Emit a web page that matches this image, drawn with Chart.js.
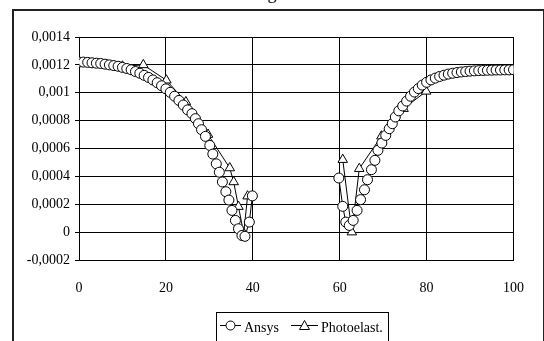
<!DOCTYPE html>
<html>
<head>
<meta charset="utf-8">
<script src="https://cdn.jsdelivr.net/npm/chart.js@4"></script>
<style>
  html,body{margin:0;padding:0;background:#fff;}
  #wrap{position:relative;width:544px;height:341px;overflow:hidden;}
  #frame{position:absolute;left:12px;top:9px;width:529px;height:340px;border:2px solid #222;}
  #ttl{position:absolute;left:0;width:544px;top:-16px;text-align:center;font:18px/18px "Liberation Serif",serif;color:#000;}
  canvas{position:absolute;left:0;top:0;}
</style>
</head>
<body>
<div id="wrap">
  <div id="frame"></div>
  <div id="ttl">g</div>
  <canvas id="c" width="544" height="341"></canvas>
</div>
<script>
const ansysLeftX = [0,1,2,3,4,5,6,7,8,9,10,11,12,13,14,15,16,17,18,19,20,21,22,23,24,25,
  26.0,26.8,27.5,28.2,29.1,30.1,30.8,31.6,32.3,33.0,33.8,34.5,35.2,36.0,36.7,37.5,38.2,39.2,39.9];
const ansysLeftY = [0.00122,0.00122,0.001218,0.001215,0.001212,0.00121,0.001205,0.0012,0.001195,0.00119,
  0.001182,0.001174,0.001165,0.001152,0.00114,0.001125,0.00111,0.001092,0.001072,0.00105,
  0.001028,0.001003,0.000975,0.000945,0.000912,0.000877,
  0.00085,0.000814,0.000778,0.000735,0.000687,0.000622,0.00056,0.00049,0.00043,0.00036,
  0.00029,0.00023,0.000156,0.000084,0.000024,-0.000024,-0.00003,0.000072,0.00026];
const ansysRightX = [59.8,60.7,61.4,62.2,63.1,64.0,64.8,65.7,66.4,67.3,68.1,68.8,69.7,70.6,71.4,72.1,72.8,
  73.6,74.5,75.4,76.3,77.2,78.1,79,80,81,82,83,84,85,86,87,88,89,90,91,92,93,94,95,96,97,98,99,100];
const ansysRightY = [0.000388,0.000185,0.000072,0.000048,0.000084,0.000156,0.000233,0.000304,0.000376,
  0.000448,0.000515,0.000587,0.000639,0.000694,0.000742,0.000778,0.000826,
  0.00087,0.000905,0.00094,0.000975,0.001005,0.00103,0.001055,0.001075,
  0.001092,0.001105,0.001117,0.001126,0.001134,0.00114,0.001145,0.001149,0.001152,0.001155,
  0.001157,0.001159,0.00116,0.001161,0.001162,0.001163,0.001163,0.001164,0.001164,0.001165];

const photoLeftX = [10,14.8,20.1,24.6,29.7,34.7,35.6,36.7,37.9,38.8];
const photoLeftY = [0.00119,0.0012,0.00109,0.000934,0.0007,0.00046,0.00036,0.000183,-0.000008,0.000258];
const photoRightX = [60.7,62.8,64.5,69.6,74.7,79.9];
const photoRightY = [0.00052,0.0,0.000455,0.000688,0.000886,0.00101];

const xTicks = [0,20,40,60,80,100];
const seriesNames = ['Ansys','Photoelast.'];

function pts(xl, yl, xr, yr){
  const out = xl.map((x,i)=>({x, y: yl[i]}));
  out.push({x: 50, y: null});
  return out.concat(xr.map((x,i)=>({x, y: yr[i]})));
}
function fmt(v){
  if(Math.abs(v) < 1e-9) return '0';
  let s = v.toFixed(4).replace(/0+$/,'').replace(/\.$/,'');
  return s.replace('.', ',');
}
const FONT = {family:'"Liberation Serif", serif', size:14};

const legendBox = {
  id:'legendBox',
  afterDraw(chart){
    const ctx = chart.ctx;
    ctx.save();
    ctx.strokeStyle = '#000'; ctx.lineWidth = 1;
    ctx.strokeRect(216.5, 312.5, 172, 30);
    const y = 325.5;
    ctx.beginPath(); ctx.moveTo(220, y); ctx.lineTo(241, y); ctx.stroke();
    ctx.beginPath(); ctx.arc(230.5, y, 4.5, 0, Math.PI*2); ctx.fillStyle='#fff'; ctx.fill(); ctx.stroke();
    ctx.beginPath(); ctx.moveTo(291, y); ctx.lineTo(318, y); ctx.stroke();
    ctx.beginPath(); ctx.moveTo(304.5, y-5); ctx.lineTo(309.5, y+4); ctx.lineTo(299.5, y+4); ctx.closePath();
    ctx.fillStyle='#fff'; ctx.fill(); ctx.stroke();
    ctx.fillStyle = '#000';
    ctx.font = '14px "Liberation Serif", serif';
    ctx.textBaseline = 'alphabetic';
    ctx.fillText(seriesNames[0], 244, 332);
    ctx.fillText(seriesNames[1], 321, 332);
    ctx.restore();
  }
};

new Chart(document.getElementById('c').getContext('2d'), {
  type: 'line',
  data: {
    datasets: [
      { label: seriesNames[0], data: pts(ansysLeftX, ansysLeftY, ansysRightX, ansysRightY),
        borderColor:'#000', borderWidth:1, pointStyle:'circle', pointRadius:5,
        pointBackgroundColor:'#fff', pointBorderColor:'#000', pointBorderWidth:1, spanGaps:false },
      { label: seriesNames[1], data: pts(photoLeftX, photoLeftY, photoRightX, photoRightY),
        borderColor:'#000', borderWidth:1, pointStyle:'triangle', pointRadius:5.5,
        pointBackgroundColor:'#fff', pointBorderColor:'#000', pointBorderWidth:1, spanGaps:false }
    ]
  },
  options: {
    responsive:false, animation:false, devicePixelRatio:1,
    layout:{padding:{left:14, top:37, right:13, bottom:0}},
    plugins:{legend:{display:false}, tooltip:{enabled:false}},
    scales:{
      x:{type:'linear', min:0, max:100,
        afterBuildTicks(s){ s.ticks = xTicks.map(v=>({value:v})); },
        afterFit(s){ s.height = 81; },
        grid:{color:'#000', lineWidth:1, drawTicks:false},
        border:{color:'#000', width:1},
        ticks:{color:'#000', font:FONT, padding:20, maxRotation:0}},
      y:{min:-0.0002, max:0.0014,
        afterBuildTicks(s){ const t=[]; for(let i=-1;i<=7;i++) t.push({value: i*0.0002}); s.ticks = t; },
        afterFit(s){ s.width = 65; },
        grid:{color:'#000', lineWidth:1, tickLength:4},
        border:{color:'#000', width:1},
        ticks:{color:'#000', font:FONT, padding:5, callback:(v)=>fmt(v)}}
    }
  },
  plugins:[legendBox]
});
</script>
</body>
</html>
